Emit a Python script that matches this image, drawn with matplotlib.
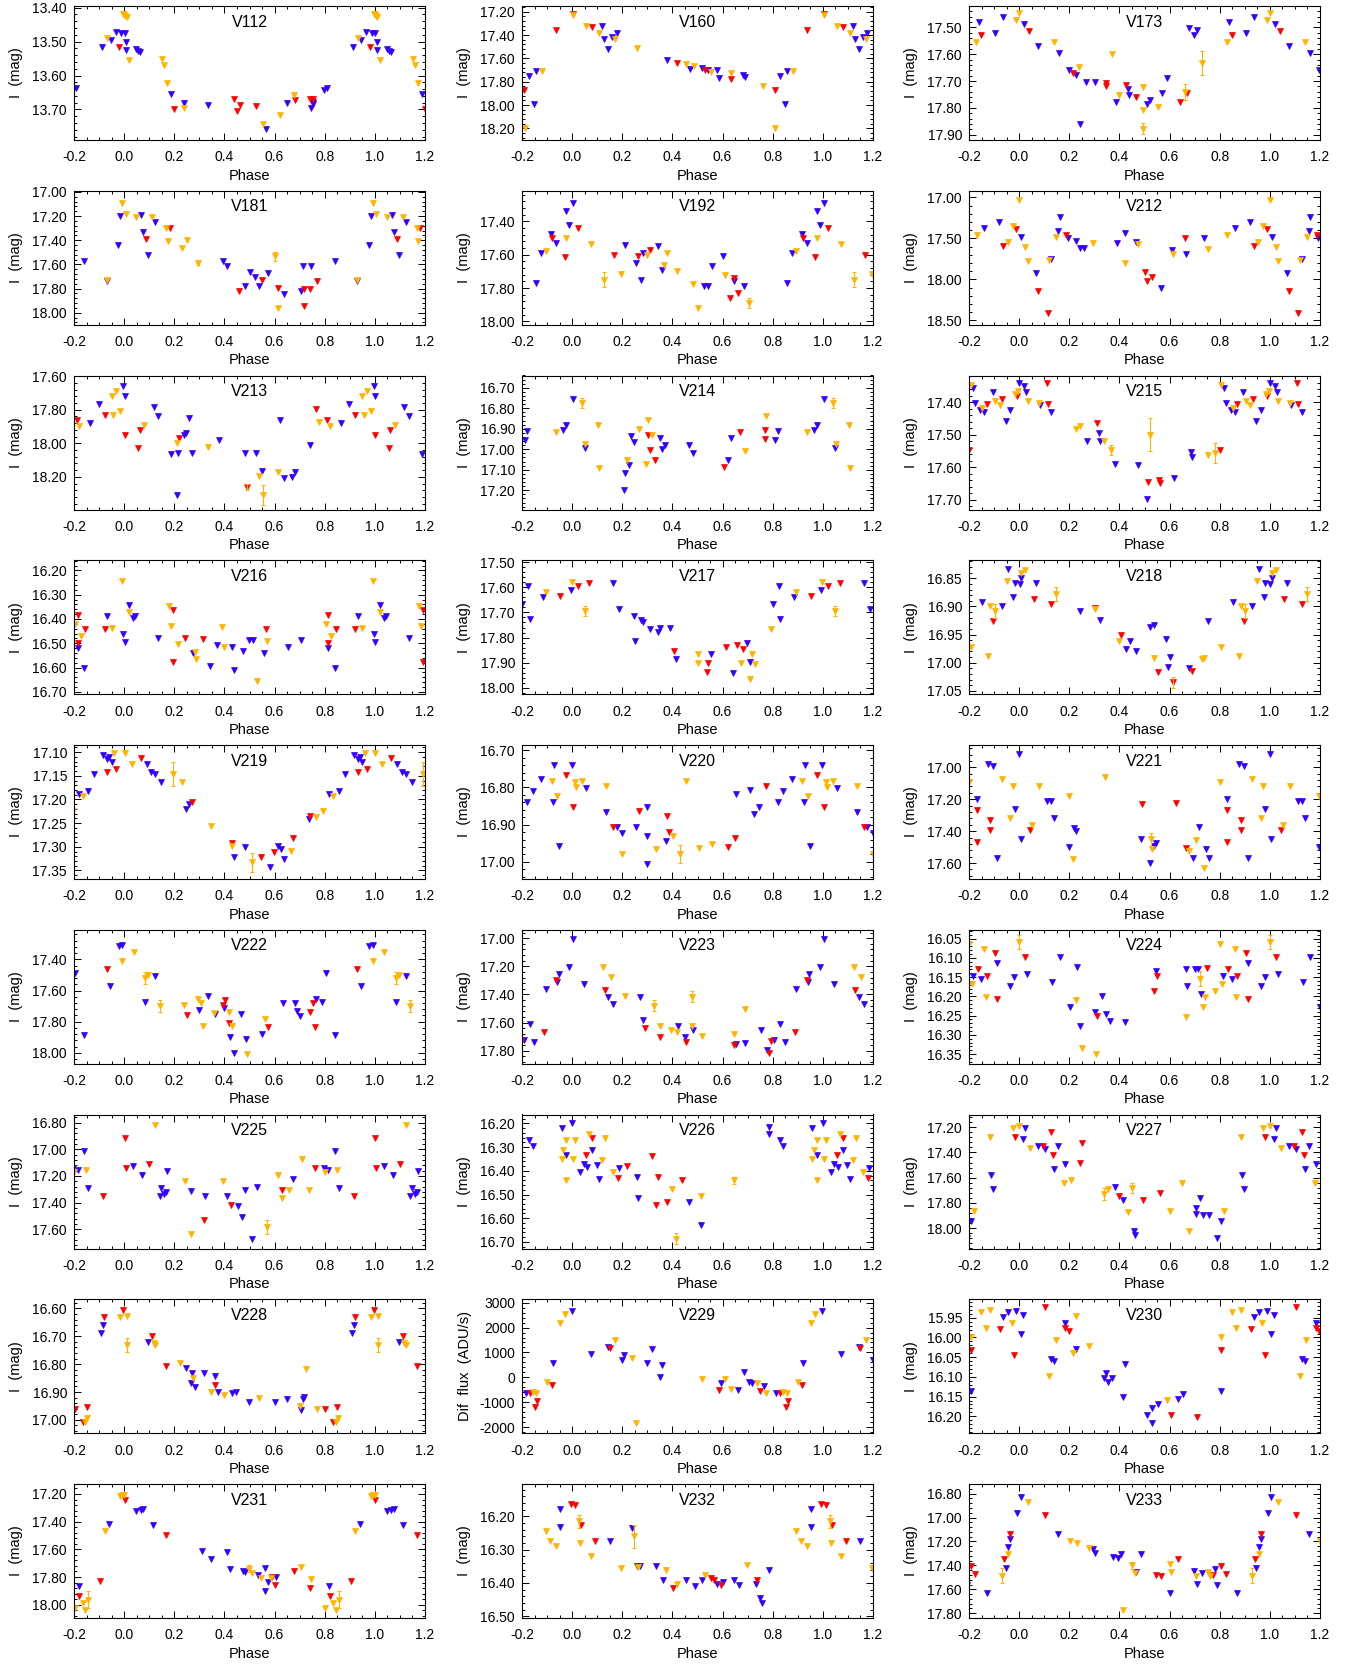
import matplotlib
matplotlib.use("Agg")
import matplotlib.pyplot as plt
from matplotlib.ticker import MultipleLocator, AutoMinorLocator, FormatStrFormatter

plt.rcParams['font.family'] = ['Liberation Sans', 'DejaVu Sans']
plt.rcParams['axes.linewidth'] = 0.8

BLUE = "#3300ff"
RED = "#ff0000"
ORANGE = "#ffb400"

# phase-folded light curves: (phase in [0,1), value); drawn again at phase-1 and phase+1
V112_blue = [(0.989, 13.474), (0.002, 13.476), (0.966, 13.471), (0.946, 13.496), (0.913, 13.515), (0.008, 13.50),
             (0.008, 13.526), (0.049, 13.523), (0.056, 13.527), (0.063, 13.532), (0.187, 13.654), (0.24, 13.68),
             (0.333, 13.688), (0.564, 13.757), (0.649, 13.681), (0.746, 13.695), (0.753, 13.685), (0.755, 13.678),
             (0.798, 13.644), (0.809, 13.636)]
V112_red = [(0.98, 13.515), (0.2, 13.70), (0.44, 13.668), (0.451, 13.705), (0.461, 13.687), (0.527, 13.69),
            (0.681, 13.671), (0.742, 13.668), (0.755, 13.668)]
V112_orange = [(0.995, 13.42), (0.0, 13.42), (0.005, 13.425), (0.01, 13.428), (0.933, 13.49), (0.02, 13.555),
               (0.151, 13.552), (0.16, 13.569), (0.171, 13.621), (0.24, 13.695), (0.552, 13.744), (0.62, 13.717),
               (0.678, 13.658)]
V112_err = []

V160_blue = [(0.828, 17.75), (0.848, 17.99), (0.856, 17.71), (0.119, 17.323), (0.127, 17.437), (0.143, 17.523),
             (0.16, 17.42), (0.178, 17.386), (0.379, 17.614), (0.472, 17.694), (0.517, 17.686), (0.541, 17.70),
             (0.576, 17.70), (0.587, 17.771), (0.68, 17.743), (0.69, 17.757)]
V160_red = [(0.808, 17.87), (0.935, 17.357), (0.003, 17.22), (0.08, 17.334), (0.417, 17.637), (0.53, 17.70),
            (0.635, 17.78)]
V160_orange = [(0.81, 18.20), (0.88, 17.706), (0.005, 17.225), (0.057, 17.323), (0.109, 17.386), (0.171, 17.437),
               (0.258, 17.514), (0.455, 17.649), (0.486, 17.666), (0.552, 17.714), (0.635, 17.729), (0.76, 17.837)]
V160_err = []

V173_blue = [(0.838, 17.48), (0.905, 17.519), (0.937, 17.461), (0.02, 17.486), (0.076, 17.571), (0.16, 17.596),
             (0.198, 17.66), (0.225, 17.678), (0.243, 17.861), (0.267, 17.703), (0.302, 17.703), (0.433, 17.728),
             (0.44, 17.753), (0.385, 17.778), (0.509, 17.784), (0.523, 17.771), (0.571, 17.746), (0.588, 17.69),
             (0.676, 17.503), (0.697, 17.528), (0.711, 17.511)]
V173_red = [(0.848, 17.528), (0.041, 17.515), (0.215, 17.669), (0.347, 17.709), (0.347, 17.72), (0.426, 17.715),
            (0.468, 17.759), (0.641, 17.778), (0.669, 17.744)]
V173_orange = [(0.828, 17.553), (0.988, 17.471), (0.0, 17.446), (0.139, 17.553), (0.239, 17.646), (0.37, 17.60),
               (0.399, 17.753), (0.495, 17.721), (0.495, 17.809), (0.495, 17.878), (0.554, 17.796), (0.662, 17.74),
               (0.728, 17.634)]
V173_err = [(0.728, 17.634, 0.045), (0.495, 17.878, 0.02), (0.662, 17.74, 0.03)]

V181_blue = [(0.84, 17.57), (0.93, 17.74), (0.975, 17.44), (0.985, 17.197), (0.069, 17.19), (0.076, 17.334),
             (0.097, 17.526), (0.125, 17.252), (0.394, 17.575), (0.411, 17.616), (0.484, 17.781), (0.502, 17.663),
             (0.523, 17.707), (0.537, 17.781), (0.572, 17.671), (0.638, 17.849), (0.705, 17.822), (0.715, 17.616),
             (0.746, 17.616)]
V181_red = [(0.087, 17.389), (0.181, 17.296), (0.46, 17.822), (0.551, 17.726), (0.614, 17.795), (0.718, 17.80),
            (0.718, 17.945), (0.743, 17.80), (0.77, 17.74)]
V181_orange = [(0.93, 17.726), (0.992, 17.088), (0.006, 17.186), (0.048, 17.205), (0.111, 17.211), (0.167, 17.30),
               (0.174, 17.405), (0.23, 17.466), (0.251, 17.397), (0.293, 17.589), (0.6, 17.534), (0.614, 17.959)]
V181_err = [(0.6, 17.534, 0.04), (0.293, 17.589, 0.02)]

V192_blue = [(0.856, 17.77), (0.876, 17.59), (0.915, 17.476), (0.935, 17.53), (0.977, 17.336), (0.987, 17.42),
             (0.004, 17.29), (0.212, 17.54), (0.254, 17.65), (0.275, 17.75), (0.282, 17.59), (0.344, 17.55),
             (0.358, 17.69), (0.524, 17.79), (0.541, 17.79), (0.559, 17.67), (0.6, 17.61), (0.646, 17.76),
             (0.687, 17.79)]
V192_red = [(0.92, 17.50), (0.97, 17.616), (0.022, 17.44), (0.167, 17.604), (0.264, 17.61), (0.309, 17.574),
            (0.628, 17.86), (0.646, 17.74), (0.663, 17.83)]
V192_orange = [(0.894, 17.58), (0.977, 17.50), (0.074, 17.536), (0.126, 17.75), (0.195, 17.716), (0.299, 17.60),
               (0.368, 17.664), (0.379, 17.59), (0.42, 17.696), (0.483, 17.776), (0.5, 17.92), (0.611, 17.72),
               (0.705, 17.89)]
V192_err = [(0.126, 17.75, 0.045), (0.705, 17.89, 0.03)]

V212_blue = [(0.86, 17.374), (0.919, 17.30), (0.009, 17.488), (0.069, 17.923), (0.128, 17.748), (0.155, 17.415),
             (0.162, 17.244), (0.194, 17.496), (0.225, 17.537), (0.243, 17.618), (0.26, 17.618), (0.389, 17.557),
             (0.423, 17.435), (0.468, 17.545), (0.566, 18.106), (0.608, 17.638), (0.664, 17.69), (0.737, 17.496)]
V212_red = [(0.937, 17.598), (0.988, 17.382), (0.076, 18.138), (0.114, 18.41), (0.187, 17.455), (0.503, 17.91),
            (0.51, 18.024), (0.53, 17.97), (0.66, 17.496)]
V212_orange = [(0.83, 17.46), (0.954, 17.545), (0.974, 17.354), (0.0, 17.028), (0.023, 17.61), (0.034, 17.78),
               (0.12, 17.76), (0.149, 17.488), (0.295, 17.557), (0.423, 17.80), (0.475, 17.57), (0.615, 17.691),
               (0.754, 17.626)]
V212_err = []

V213_blue = [(0.863, 17.88), (0.898, 17.764), (0.995, 17.656), (0.002, 17.716), (0.118, 17.784), (0.135, 17.836),
             (0.188, 18.064), (0.216, 18.06), (0.212, 18.31), (0.237, 17.95), (0.247, 17.936), (0.257, 17.85),
             (0.271, 18.06), (0.38, 17.98), (0.481, 18.06), (0.527, 18.06), (0.551, 18.164), (0.621, 17.864),
             (0.639, 18.21), (0.67, 18.204), (0.68, 18.17), (0.743, 18.01)]
V213_red = [(0.81, 17.86), (0.765, 17.796), (0.922, 17.83), (0.002, 17.95), (0.055, 18.03), (0.062, 17.92),
            (0.219, 17.97), (0.492, 18.26)]
V213_orange = [(0.821, 17.896), (0.779, 17.876), (0.95, 17.716), (0.957, 17.83), (0.968, 17.69), (0.985, 17.81),
               (0.079, 17.89), (0.212, 17.996), (0.334, 18.024), (0.538, 18.196), (0.554, 18.31), (0.614, 18.17)]
V213_err = [(0.554, 18.31, 0.06), (0.492, 18.26, 0.02)]

V214_blue = [(0.81, 16.956), (0.82, 16.912), (0.963, 16.907), (0.977, 16.88), (0.004, 16.754), (0.05, 16.993),
             (0.206, 17.20), (0.212, 17.115), (0.226, 17.075), (0.233, 16.936), (0.247, 16.966), (0.352, 16.944),
             (0.359, 17.00), (0.369, 16.977), (0.466, 16.98), (0.483, 17.02), (0.622, 17.053), (0.635, 16.944)]
V214_red = [(0.303, 16.932), (0.31, 17.005), (0.331, 17.053), (0.604, 17.086), (0.67, 16.917), (0.768, 16.952),
            (0.771, 16.905)]
V214_orange = [(0.935, 16.917), (0.039, 16.773), (0.053, 16.972), (0.105, 16.88), (0.108, 17.09), (0.22, 17.053),
               (0.268, 16.90), (0.296, 17.07), (0.303, 16.855), (0.317, 16.932), (0.688, 17.009), (0.775, 16.839)]
V214_err = [(0.039, 16.773, 0.025)]

V215_blue = [(0.817, 17.356), (0.824, 17.402), (0.845, 17.423), (0.859, 17.43), (0.894, 17.37), (0.946, 17.458),
             (0.963, 17.423), (0.0, 17.34), (0.02, 17.35), (0.027, 17.37), (0.085, 17.41), (0.128, 17.43),
             (0.271, 17.52), (0.32, 17.494), (0.323, 17.52), (0.383, 17.589), (0.476, 17.592), (0.51, 17.697),
             (0.618, 17.633), (0.684, 17.554), (0.691, 17.568)]
V215_red = [(0.87, 17.407), (0.932, 17.39), (0.99, 17.38), (0.11, 17.34), (0.114, 17.407), (0.31, 17.464),
            (0.514, 17.646), (0.556, 17.638), (0.563, 17.648), (0.8, 17.546)]
V215_orange = [(0.807, 17.346), (0.852, 17.418), (0.905, 17.397), (0.922, 17.41), (0.984, 17.374), (0.997, 17.366),
               (0.034, 17.397), (0.079, 17.402), (0.226, 17.482), (0.243, 17.474), (0.337, 17.52), (0.365, 17.546),
               (0.522, 17.50), (0.754, 17.561), (0.782, 17.556)]
V215_err = [(0.522, 17.50, 0.05), (0.782, 17.556, 0.03), (0.365, 17.546, 0.015)]

V216_blue = [(0.815, 16.52), (0.84, 16.60), (0.933, 16.386), (0.996, 16.462), (0.002, 16.495), (0.02, 16.344),
             (0.037, 16.396), (0.045, 16.386), (0.136, 16.477), (0.276, 16.54), (0.342, 16.593), (0.369, 16.508),
             (0.432, 16.514), (0.439, 16.612), (0.474, 16.53), (0.498, 16.488), (0.512, 16.488), (0.557, 16.54),
             (0.652, 16.514), (0.705, 16.488)]
V216_red = [(0.815, 16.498), (0.815, 16.383), (0.845, 16.442), (0.922, 16.442), (0.194, 16.363), (0.194, 16.577),
            (0.244, 16.477), (0.314, 16.481), (0.564, 16.442)]
V216_orange = [(0.805, 16.42), (0.826, 16.468), (0.95, 16.436), (0.992, 16.242), (0.02, 16.37), (0.177, 16.346),
               (0.185, 16.429), (0.215, 16.504), (0.283, 16.538), (0.286, 16.566), (0.39, 16.433), (0.397, 16.514),
               (0.529, 16.655), (0.568, 16.49)]
V216_err = []

V217_blue = [(0.825, 17.597), (0.83, 17.727), (0.884, 17.64), (0.994, 17.613), (0.164, 17.583), (0.188, 17.685),
             (0.247, 17.714), (0.275, 17.731), (0.282, 17.74), (0.309, 17.764), (0.341, 17.779), (0.351, 17.761),
             (0.389, 17.761), (0.251, 17.813), (0.413, 17.884), (0.552, 17.866), (0.64, 17.94), (0.697, 17.822),
             (0.711, 17.895), (0.8, 17.665)]
V217_red = [(0.953, 17.633), (0.022, 17.596), (0.067, 17.583), (0.406, 17.855), (0.541, 17.90), (0.538, 17.936),
            (0.612, 17.836), (0.659, 17.829), (0.683, 17.845)]
V217_orange = [(0.894, 17.62), (0.998, 17.578), (0.05, 17.696), (0.503, 17.866), (0.503, 17.90), (0.673, 17.90),
               (0.708, 17.963), (0.718, 17.866), (0.728, 17.905), (0.794, 17.766)]
V217_err = [(0.05, 17.696, 0.02)]

V218_blue = [(0.853, 16.893), (0.93, 16.90), (0.957, 16.834), (0.975, 16.884), (0.982, 16.858), (0.002, 16.861),
             (0.009, 16.849), (0.069, 16.859), (0.243, 16.908), (0.323, 16.925), (0.426, 16.976), (0.444, 16.962),
             (0.468, 16.979), (0.523, 16.936), (0.537, 16.933), (0.584, 16.958), (0.594, 17.007), (0.601, 16.99),
             (0.677, 17.009), (0.753, 16.926)]
V218_red = [(0.895, 16.926), (0.058, 16.887), (0.128, 16.896), (0.302, 16.902), (0.407, 16.95), (0.554, 17.016),
            (0.615, 17.035), (0.688, 17.015)]
V218_orange = [(0.807, 16.972), (0.877, 16.988), (0.884, 16.899), (0.902, 16.908), (0.95, 16.855), (0.009, 16.84),
               (0.023, 16.836), (0.149, 16.878), (0.302, 16.905), (0.4, 16.962), (0.537, 16.992), (0.728, 16.994),
               (0.739, 16.991)]
V218_err = [(0.149, 16.878, 0.012), (0.902, 16.908, 0.012), (0.615, 17.035, 0.01)]

V219_blue = [(0.818, 17.188), (0.856, 17.183), (0.88, 17.146), (0.915, 17.106), (0.933, 17.114), (0.94, 17.11),
             (0.95, 17.12), (0.09, 17.125), (0.107, 17.142), (0.125, 17.146), (0.149, 17.164), (0.247, 17.22),
             (0.258, 17.21), (0.439, 17.322), (0.484, 17.301), (0.583, 17.342), (0.614, 17.298), (0.624, 17.305),
             (0.638, 17.326), (0.736, 17.241)]
V219_red = [(0.933, 17.142), (0.968, 17.135), (0.066, 17.113), (0.272, 17.205), (0.429, 17.291), (0.544, 17.322),
            (0.596, 17.312), (0.673, 17.282), (0.743, 17.236)]
V219_orange = [(0.835, 17.192), (0.96, 17.101), (0.002, 17.101), (0.03, 17.125), (0.194, 17.146), (0.23, 17.164),
               (0.345, 17.257), (0.432, 17.298), (0.509, 17.333), (0.666, 17.308), (0.765, 17.238), (0.795, 17.224)]
V219_err = [(0.194, 17.146, 0.025), (0.509, 17.333, 0.02)]

V220_blue = [(0.821, 16.84), (0.842, 16.809), (0.876, 16.777), (0.928, 16.741), (0.925, 16.838), (0.949, 16.957),
             (0.998, 16.741), (0.056, 16.802), (0.137, 16.865), (0.178, 16.907), (0.199, 16.922), (0.254, 16.907),
             (0.299, 16.931), (0.299, 17.006), (0.299, 16.852), (0.376, 16.943), (0.655, 16.817), (0.708, 16.806),
             (0.725, 16.871), (0.746, 16.853)]
V220_red = [(0.977, 16.766), (0.004, 16.853), (0.164, 16.907), (0.268, 16.862), (0.379, 16.878), (0.386, 16.921),
            (0.621, 16.961), (0.649, 16.937), (0.775, 16.795)]
V220_orange = [(0.918, 16.784), (0.939, 16.822), (0.011, 16.786), (0.015, 16.80), (0.039, 16.782), (0.137, 16.795),
               (0.199, 16.979), (0.334, 16.965), (0.403, 16.93), (0.431, 16.979), (0.455, 16.784), (0.507, 16.964),
               (0.559, 16.952)]
V220_err = [(0.431, 16.979, 0.025)]

V221_blue = [(0.83, 17.196), (0.877, 16.98), (0.895, 16.99), (0.912, 17.566), (0.982, 17.26), (0.0, 16.917),
             (0.006, 17.45), (0.111, 17.21), (0.128, 17.21), (0.139, 17.316), (0.198, 17.50), (0.219, 17.378),
             (0.225, 17.40), (0.487, 17.45), (0.52, 17.597), (0.537, 17.49), (0.547, 17.476), (0.693, 17.566),
             (0.718, 17.372), (0.746, 17.514), (0.756, 17.566)]
V221_red = [(0.83, 17.27), (0.83, 17.47), (0.884, 17.39), (0.884, 17.33), (0.045, 17.39), (0.49, 17.23),
            (0.624, 17.221), (0.666, 17.503)]
V221_orange = [(0.93, 17.074), (0.964, 17.316), (0.974, 17.116), (0.051, 17.364), (0.079, 17.116), (0.198, 17.18),
               (0.215, 17.576), (0.341, 17.06), (0.527, 17.45), (0.53, 17.514), (0.676, 17.524), (0.704, 17.455),
               (0.739, 17.629), (0.8, 17.095)]
V221_err = [(0.527, 17.45, 0.04)]

V222_blue = [(0.804, 17.488), (0.84, 17.888), (0.943, 17.57), (0.978, 17.314), (0.992, 17.31), (0.083, 17.672),
             (0.125, 17.509), (0.3, 17.724), (0.335, 17.632), (0.362, 17.748), (0.397, 17.713), (0.421, 17.898),
             (0.439, 18.0), (0.467, 17.748), (0.488, 17.908), (0.551, 17.877), (0.632, 17.683), (0.68, 17.679),
             (0.691, 17.734), (0.701, 17.765), (0.767, 17.652), (0.788, 17.672)]
V222_red = [(0.93, 17.461), (0.251, 17.76), (0.393, 17.693), (0.404, 17.662), (0.418, 17.806), (0.572, 17.836),
            (0.743, 17.74), (0.753, 17.683), (0.76, 17.836)]
V222_orange = [(0.992, 17.412), (0.038, 17.35), (0.083, 17.519), (0.097, 17.498), (0.142, 17.699), (0.237, 17.693),
               (0.293, 17.652), (0.307, 17.683), (0.314, 17.83), (0.359, 17.744), (0.418, 17.74), (0.432, 17.826),
               (0.491, 18.01), (0.561, 17.785)]
V222_err = [(0.083, 17.519, 0.04), (0.142, 17.699, 0.04)]

V223_blue = [(0.807, 17.723), (0.831, 17.609), (0.849, 17.74), (0.894, 17.36), (0.946, 17.258), (0.94, 17.313),
             (0.987, 17.206), (0.004, 17.005), (0.046, 17.325), (0.143, 17.42), (0.164, 17.467), (0.27, 17.42),
             (0.282, 17.585), (0.424, 17.628), (0.449, 17.704), (0.482, 17.652), (0.655, 17.756), (0.69, 17.746),
             (0.753, 17.652), (0.777, 17.794)]
V223_red = [(0.795, 17.732), (0.887, 17.668), (0.935, 17.30), (0.13, 17.372), (0.292, 17.637), (0.351, 17.704),
            (0.455, 17.739), (0.646, 17.763), (0.784, 17.818)]
V223_orange = [(0.123, 17.206), (0.154, 17.273), (0.212, 17.408), (0.327, 17.479), (0.351, 17.621), (0.396, 17.652),
               (0.42, 17.668), (0.479, 17.621), (0.479, 17.415), (0.517, 17.699), (0.646, 17.68), (0.69, 17.502)]
V223_err = [(0.327, 17.479, 0.04), (0.479, 17.415, 0.04)]

V224_blue = [(0.814, 16.146), (0.849, 16.154), (0.912, 16.113), (0.964, 16.172), (0.981, 16.15), (0.033, 16.141),
             (0.132, 16.163), (0.162, 16.098), (0.201, 16.228), (0.232, 16.124), (0.243, 16.276), (0.302, 16.24),
             (0.33, 16.20), (0.347, 16.247), (0.364, 16.263), (0.423, 16.267), (0.546, 16.133), (0.664, 16.13),
             (0.671, 16.172), (0.702, 16.13), (0.713, 16.13), (0.727, 16.193)]
V224_red = [(0.835, 16.128), (0.87, 16.146), (0.905, 16.087), (0.912, 16.207), (0.023, 16.098), (0.309, 16.25),
            (0.539, 16.185), (0.55, 16.146), (0.748, 16.126)]
V224_orange = [(0.8, 16.065), (0.86, 16.076), (0.866, 16.202), (0.0, 16.059), (0.225, 16.209), (0.25, 16.334),
               (0.305, 16.35), (0.664, 16.254), (0.72, 16.154), (0.734, 16.228), (0.741, 16.202), (0.783, 16.185),
               (0.81, 16.167)]
V224_err = [(0.0, 16.059, 0.018), (0.72, 16.154, 0.02)]

V225_blue = [(0.814, 17.158), (0.841, 17.015), (0.855, 17.29), (0.037, 17.125), (0.073, 17.195), (0.142, 17.35),
             (0.149, 17.29), (0.16, 17.333), (0.171, 17.165), (0.167, 17.32), (0.268, 17.315), (0.324, 17.35),
             (0.411, 17.35), (0.456, 17.425), (0.47, 17.508), (0.484, 17.308), (0.509, 17.67), (0.529, 17.283),
             (0.673, 17.22), (0.796, 17.14)]
V225_red = [(0.915, 17.35), (0.002, 16.915), (0.006, 17.14), (0.101, 17.108), (0.317, 17.533), (0.425, 17.42),
            (0.631, 17.308), (0.76, 17.14)]
V225_orange = [(0.848, 17.158), (0.125, 16.82), (0.244, 17.24), (0.268, 17.633), (0.394, 17.24), (0.571, 17.583),
               (0.614, 17.195), (0.628, 17.365), (0.659, 17.308), (0.708, 17.07), (0.739, 17.308), (0.8, 17.17)]
V225_err = [(0.571, 17.583, 0.05)]

V226_blue = [(0.784, 16.214), (0.787, 16.246), (0.829, 16.27), (0.843, 16.294), (0.958, 16.221), (0.975, 16.331),
             (0.999, 16.20), (0.032, 16.404), (0.046, 16.369), (0.06, 16.383), (0.081, 16.313), (0.098, 16.376),
             (0.108, 16.435), (0.185, 16.387), (0.258, 16.425), (0.264, 16.514), (0.465, 16.531), (0.513, 16.63)]
V226_red = [(0.056, 16.334), (0.081, 16.263), (0.181, 16.432), (0.22, 16.379), (0.32, 16.337), (0.334, 16.545),
            (0.344, 16.425), (0.379, 16.531), (0.437, 16.44)]
V226_orange = [(0.958, 16.351), (0.964, 16.313), (0.975, 16.44), (0.975, 16.27), (0.004, 16.35), (0.011, 16.27),
               (0.067, 16.246), (0.119, 16.355), (0.133, 16.26), (0.161, 16.404), (0.4, 16.475), (0.414, 16.686),
               (0.513, 16.506), (0.646, 16.44)]
V226_err = [(0.414, 16.686, 0.025), (0.646, 16.44, 0.015)]

V227_blue = [(0.807, 17.939), (0.888, 17.581), (0.895, 17.69), (0.016, 17.294), (0.023, 17.208), (0.076, 17.346),
             (0.104, 17.372), (0.139, 17.534), (0.155, 17.346), (0.183, 17.495), (0.383, 17.67), (0.416, 17.774),
             (0.458, 18.025), (0.462, 18.05), (0.704, 17.843), (0.704, 17.887), (0.721, 17.764), (0.732, 17.894),
             (0.756, 17.894), (0.791, 18.077)]
V227_red = [(0.982, 17.278), (0.097, 17.346), (0.128, 17.242), (0.135, 17.424), (0.243, 17.483), (0.25, 17.325),
            (0.399, 17.748), (0.493, 17.774), (0.562, 17.722)]
V227_orange = [(0.818, 17.861), (0.884, 17.278), (0.974, 17.208), (0.0, 17.19), (0.045, 17.365), (0.18, 17.644),
               (0.207, 17.618), (0.337, 17.73), (0.355, 17.691), (0.434, 17.874), (0.451, 17.678), (0.6, 17.861),
               (0.648, 17.644), (0.676, 18.025)]
V227_err = [(0.337, 17.73, 0.05), (0.451, 17.678, 0.04)]

V228_blue = [(0.908, 16.687), (0.915, 16.66), (0.097, 16.72), (0.247, 16.815), (0.265, 16.866), (0.272, 16.833),
             (0.283, 16.881), (0.317, 16.833), (0.362, 16.843), (0.376, 16.899), (0.432, 16.902), (0.446, 16.899),
             (0.498, 16.935), (0.6, 16.935), (0.649, 16.926), (0.705, 16.964), (0.712, 16.926), (0.719, 16.919)]
V228_red = [(0.803, 16.962), (0.835, 17.006), (0.85, 16.955), (0.919, 16.632), (0.996, 16.604), (0.111, 16.70),
            (0.167, 16.807), (0.362, 16.875)]
V228_orange = [(0.845, 17.006), (0.852, 16.994), (0.985, 16.63), (0.013, 16.627), (0.013, 16.731), (0.118, 16.725),
               (0.125, 16.731), (0.223, 16.797), (0.276, 16.851), (0.345, 16.899), (0.397, 16.911), (0.537, 16.923),
               (0.701, 16.95), (0.726, 16.819), (0.77, 16.962)]
V228_err = [(0.013, 16.731, 0.025)]

V229_blue = [(0.814, -636), (0.922, 567), (0.998, 2680), (0.074, 941), (0.143, 1235), (0.199, 700), (0.206, 901),
             (0.299, 567), (0.317, 1128), (0.352, 32), (0.359, 500), (0.594, -235), (0.663, -500), (0.687, 233),
             (0.705, -170), (0.718, -235), (0.767, -342)]
V229_red = [(0.831, -636), (0.852, -1171), (0.859, -930), (0.918, -300), (0.15, 1168), (0.587, -500), (0.75, -530)]
V229_orange = [(0.855, -610), (0.842, -570), (0.9, -170), (0.953, 2171), (0.97, 2545), (0.171, 1503), (0.24, 767),
               (0.254, -1813), (0.517, -75), (0.611, -75), (0.635, -450), (0.739, -235), (0.775, -636)]
V229_err = []

V230_blue = [(0.807, 16.136), (0.937, 15.947), (0.957, 15.935), (0.988, 15.933), (0.006, 15.99), (0.016, 15.943),
             (0.128, 16.054), (0.139, 16.059), (0.183, 15.962), (0.225, 16.029), (0.337, 16.104), (0.347, 16.089),
             (0.355, 16.113), (0.372, 16.102), (0.416, 16.15), (0.423, 16.067), (0.51, 16.196), (0.53, 16.179),
             (0.53, 16.217), (0.554, 16.17), (0.634, 16.155), (0.652, 16.144)]
V230_red = [(0.807, 16.033), (0.923, 15.979), (0.981, 16.044), (0.104, 15.922), (0.183, 15.977), (0.198, 15.984),
            (0.606, 16.196), (0.711, 16.202)]
V230_orange = [(0.807, 15.999), (0.849, 15.936), (0.866, 15.976), (0.884, 15.93), (0.97, 15.962), (0.12, 16.097),
               (0.146, 16.007), (0.215, 16.039), (0.225, 15.945), (0.278, 16.022), (0.589, 16.159)]
V230_err = []

V231_blue = [(0.818, 17.867), (0.94, 17.417), (0.048, 17.325), (0.066, 17.313), (0.076, 17.306), (0.114, 17.422),
             (0.31, 17.614), (0.345, 17.667), (0.411, 17.619), (0.421, 17.74), (0.474, 17.754), (0.481, 17.764),
             (0.533, 17.788), (0.561, 17.904), (0.561, 17.735), (0.572, 17.836), (0.607, 17.802)]
V231_red = [(0.821, 17.94), (0.905, 17.831), (0.002, 17.241), (0.167, 17.499), (0.6, 17.86), (0.59, 17.80),
            (0.677, 17.754), (0.743, 17.88)]
V231_orange = [(0.803, 18.024), (0.835, 17.988), (0.845, 18.036), (0.856, 17.964), (0.922, 17.47), (0.985, 17.217),
               (0.992, 17.205), (0.0, 17.205), (0.498, 17.74), (0.509, 17.771), (0.544, 17.807), (0.586, 17.807),
               (0.705, 17.73), (0.747, 17.812)]
V231_err = [(0.856, 17.964, 0.06), (0.498, 17.74, 0.025)]

V232_blue = [(0.953, 16.177), (0.953, 16.233), (0.15, 16.275), (0.24, 16.235), (0.258, 16.35), (0.271, 16.35),
             (0.334, 16.35), (0.362, 16.39), (0.455, 16.39), (0.49, 16.41), (0.517, 16.39), (0.576, 16.403),
             (0.6, 16.397), (0.646, 16.39), (0.666, 16.407), (0.732, 16.403), (0.75, 16.445), (0.757, 16.46),
             (0.784, 16.36)]
V232_red = [(0.994, 16.163), (0.011, 16.165), (0.035, 16.225), (0.091, 16.273), (0.403, 16.415), (0.552, 16.385),
            (0.566, 16.39), (0.594, 16.405), (0.739, 16.39)]
V232_orange = [(0.894, 16.245), (0.911, 16.273), (0.935, 16.29), (0.029, 16.215), (0.032, 16.28), (0.074, 16.32),
               (0.195, 16.355), (0.247, 16.26), (0.264, 16.353), (0.376, 16.36), (0.42, 16.403), (0.531, 16.375),
               (0.697, 16.347)]
V232_err = [(0.247, 16.26, 0.035), (0.029, 16.215, 0.02)]

V233_blue = [(0.87, 17.634), (0.946, 17.425), (0.957, 17.246), (0.964, 17.18), (0.992, 16.963), (0.006, 16.827),
             (0.155, 17.137), (0.295, 17.267), (0.302, 17.295), (0.376, 17.327), (0.393, 17.335), (0.407, 17.308),
             (0.468, 17.452), (0.486, 17.308), (0.6, 17.634), (0.697, 17.444), (0.711, 17.553), (0.728, 17.463),
             (0.78, 17.43), (0.791, 17.566)]
V233_red = [(0.807, 17.403), (0.825, 17.471), (0.94, 17.343), (0.964, 17.137), (0.104, 16.982), (0.547, 17.48),
            (0.564, 17.485), (0.634, 17.349), (0.774, 17.48)]
V233_orange = [(0.93, 17.485), (0.957, 17.308), (0.034, 16.873), (0.201, 17.20), (0.232, 17.213), (0.278, 17.254),
               (0.416, 17.77), (0.451, 17.40), (0.462, 17.463), (0.6, 17.39), (0.606, 17.458), (0.704, 17.485),
               (0.753, 17.458), (0.763, 17.49)]
V233_err = [(0.93, 17.485, 0.06), (0.451, 17.40, 0.03)]

names = ["V112", "V160", "V173", "V181", "V192", "V212", "V213", "V214", "V215",
         "V216", "V217", "V218", "V219", "V220", "V221", "V222", "V223", "V224",
         "V225", "V226", "V227", "V228", "V229", "V230", "V231", "V232", "V233"]

# axis ranges (bottom, top) and major tick step per panel
ylims = {"V112": (13.79, 13.395), "V160": (18.30, 17.15), "V173": (17.92, 17.42),
         "V181": (18.10, 16.99), "V192": (18.02, 17.216), "V212": (18.553, 16.92),
         "V213": (18.395, 17.596), "V214": (17.294, 16.64), "V215": (17.73, 17.318),
         "V216": (16.71, 16.158), "V217": (18.025, 17.493), "V218": (17.056, 16.818),
         "V219": (17.368, 17.085), "V220": (17.046, 16.686), "V221": (17.70, 16.86),
         "V222": (18.07, 17.21), "V223": (17.893, 16.94), "V224": (16.375, 16.027),
         "V225": (17.745, 16.74), "V226": (16.728, 16.162), "V227": (18.16, 17.10),
         "V228": (17.048, 16.567), "V229": (-2240, 3134), "V230": (16.243, 15.903),
         "V231": (18.096, 17.128), "V232": (16.505, 16.103), "V233": (17.84, 16.72)}
ysteps = {"V112": 0.1, "V160": 0.2, "V173": 0.1, "V181": 0.2, "V192": 0.2, "V212": 0.5,
          "V213": 0.2, "V214": 0.1, "V215": 0.1, "V216": 0.1, "V217": 0.1, "V218": 0.05,
          "V219": 0.05, "V220": 0.1, "V221": 0.2, "V222": 0.2, "V223": 0.2, "V224": 0.05,
          "V225": 0.2, "V226": 0.1, "V227": 0.2, "V228": 0.1, "V229": 1000, "V230": 0.05,
          "V231": 0.2, "V232": 0.1, "V233": 0.2}

series = globals()


def fold(pts):
    xs, ys = [], []
    for p, m in pts:
        for s in (-1, 0, 1):
            q = p + s
            if -0.22 <= q <= 1.22:
                xs.append(q)
                ys.append(m)
    return xs, ys


fig = plt.figure(figsize=(13.61, 16.66), dpi=100)
W, H = 1361.0, 1666.0
col_left = [74, 522, 969]
ax_w, ax_h = 351, 134

for i, name in enumerate(names):
    row, col = divmod(i, 3)
    top = 6 + 184.75 * row
    ax = fig.add_axes([col_left[col] / W, 1 - (top + ax_h) / H, ax_w / W, ax_h / H])

    for key, c in (("blue", BLUE), ("red", RED), ("orange", ORANGE)):
        x, y = fold(series[f"{name}_{key}"])
        ax.plot(x, y, 'v', color=c, ms=4.6, mec=c, mew=0.5, ls='none')

    err = series[f"{name}_err"]
    if err:
        ex, ey, ee = [], [], []
        for p, m, e in err:
            for s in (-1, 0, 1):
                if -0.22 <= p + s <= 1.22:
                    ex.append(p + s); ey.append(m); ee.append(e)
        ax.errorbar(ex, ey, yerr=ee, fmt='none', ecolor=ORANGE, elinewidth=0.8, capsize=1.5, capthick=0.8)

    ax.set_xlim(-0.2, 1.2)
    ax.set_ylim(*ylims[name])
    ax.xaxis.set_major_locator(MultipleLocator(0.2))
    ax.xaxis.set_minor_locator(AutoMinorLocator(4))
    ax.xaxis.set_major_formatter(FormatStrFormatter('%.1f'))
    ax.yaxis.set_major_locator(MultipleLocator(ysteps[name]))
    ax.yaxis.set_minor_locator(AutoMinorLocator(5))
    if name == "V229":
        ax.yaxis.set_major_formatter(FormatStrFormatter('%d'))
        ax.set_ylabel("Dif  flux  (ADU/s)", fontsize=10.5, labelpad=5)
    else:
        ax.yaxis.set_major_formatter(FormatStrFormatter('%.2f'))
        ax.set_ylabel("I  (mag)", fontsize=10.5, labelpad=7)
    ax.tick_params(which='both', direction='in', top=True, right=True, labelsize=10, width=0.7)
    ax.tick_params(which='major', length=5, pad=5)
    ax.tick_params(axis='x', which='major', pad=7.5)
    ax.tick_params(which='minor', length=2.5)
    ax.set_xlabel("Phase", fontsize=10.5, labelpad=3)
    ax.text(0.5, 0.88, name, transform=ax.transAxes, ha='center', va='center', fontsize=11.5)

fig.savefig("out.png", dpi=100)
